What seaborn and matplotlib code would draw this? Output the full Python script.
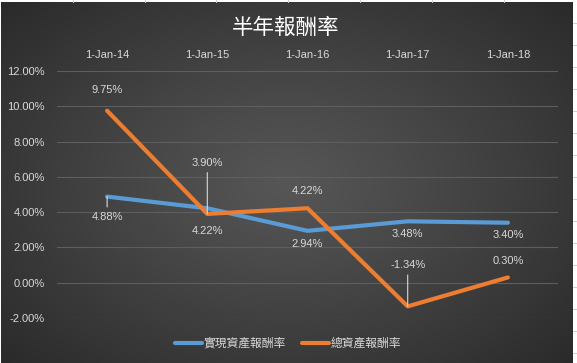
import numpy as np
import pandas as pd
import matplotlib
matplotlib.use("Agg")
import matplotlib.pyplot as plt
from matplotlib.lines import Line2D
import seaborn as sns

# Dados do gráfico
datas = ["1-Jan-14", "1-Jan-15", "1-Jan-16", "1-Jan-17", "1-Jan-18"]
realizado = [4.88, 4.22, 2.94, 3.48, 3.40]
total = [9.75, 3.90, 4.22, -1.34, 0.30]
nomes = ["實現資產報酬率", "總資產報酬率"]
titulo = "半年報酬率"

# deslocamento dos rótulos (pixels, positivo = acima)
desloc_realizado = [-20, -23, -13, -13, -12]
desloc_total = [21, 51, 17, 41, 16]
linha_guia_realizado = [True, False, False, False, False]
linha_guia_total = [False, True, False, True, False]

cores = ["#5B9BD5", "#ED7D31"]
cor_texto = "#d9d9d9"

sns.set_theme(style="dark")
plt.rcParams["font.family"] = ["Liberation Sans", "Noto Sans CJK TC", "DejaVu Sans"]

W, H = 577, 363
fig = plt.figure(figsize=(W / 100, H / 100), dpi=100, facecolor="white")

# Fundo escuro com gradiente radial
bg = fig.add_axes([1 / W, 0, 572 / W, 361 / H])
yy, xx = np.mgrid[0:300, 0:500]
cx, cy = 250, 150
r = np.sqrt(((xx - cx) / 300) ** 2 + ((yy - cy) / 190) ** 2)
r = np.clip(r / r.max(), 0, 1)
val = (86 - 44 * r ** 1.1) / 255
bg.imshow(np.dstack([val, val, val]), aspect="auto", extent=[0, 1, 0, 1])
bg.set_axis_off()

# Linhas de células da planilha (borda)
for xp in [73, 145, 216, 288, 360, 432, 504]:
    fig.add_artist(Line2D([xp / W, xp / W], [1 - 2 / H, 1], color="#d0d0d0", lw=0.8))
for yp in [23, 45, 67, 89, 111, 133, 155, 177, 199, 221, 243, 265, 287, 309, 331, 353]:
    fig.add_artist(Line2D([573 / W, 1], [1 - yp / H, 1 - yp / H], color="#d0d0d0", lw=0.8))

ax = fig.add_axes([57 / W, (H - 318) / H, (558 - 57) / W, (318 - 71) / H])
ax.patch.set_alpha(0)

df = pd.DataFrame({"pos": list(range(len(datas))) * 2,
                   "valor": realizado + total,
                   "serie": [nomes[0]] * len(datas) + [nomes[1]] * len(datas)})
sns.lineplot(data=df, x="pos", y="valor", hue="serie", palette=cores, ax=ax,
             linewidth=3, legend=False, solid_capstyle="round", solid_joinstyle="round")

ax.set_xlim(-0.5, len(datas) - 0.5)
ax.set_ylim(-2, 12)
ax.set_yticks(np.arange(-2, 13, 2))
ax.set_yticklabels([f"{v:.2f}%" for v in np.arange(-2, 13, 2)])
ax.set_xticks(range(len(datas)))
ax.set_xticklabels(datas)
ax.xaxis.tick_top()
ax.tick_params(axis="x", length=0, pad=8, colors=cor_texto, labelsize=8)
ax.tick_params(axis="y", length=0, pad=9, colors=cor_texto, labelsize=8)
ax.set_xlabel("")
ax.set_ylabel("")
ax.grid(axis="y", color="#5e5e5e", lw=0.8)
ax.grid(axis="x", visible=False)
for s in ax.spines.values():
    s.set_visible(False)

# Rótulos de dados
def rotulos(valores, desloc, guia):
    for i, (v, d, g) in enumerate(zip(valores, desloc, guia)):
        props = None
        if g:
            props = dict(arrowstyle="-", color=cor_texto, lw=0.8, shrinkA=1, shrinkB=0)
        ax.annotate(f"{v:.2f}%", (i, v), xytext=(0, d * 0.72), textcoords="offset points",
                    ha="center", va="center", color=cor_texto, fontsize=8,
                    arrowprops=props)

rotulos(realizado, desloc_realizado, linha_guia_realizado)
rotulos(total, desloc_total, linha_guia_total)

fig.text(286 / W, 1 - 28 / H, titulo, ha="center", va="center", color="white", fontsize=15.5)

handles = [Line2D([], [], color=c, lw=3, solid_capstyle="round") for c in cores]
fig.legend(handles, nomes, loc="center", bbox_to_anchor=(288 / W, 1 - 344 / H), ncol=2,
           frameon=False, fontsize=8.5, labelcolor=cor_texto, handlelength=2.3,
           handletextpad=0.1, columnspacing=1.4)

plt.savefig("out.png", dpi=100, facecolor="white")
plt.close()
